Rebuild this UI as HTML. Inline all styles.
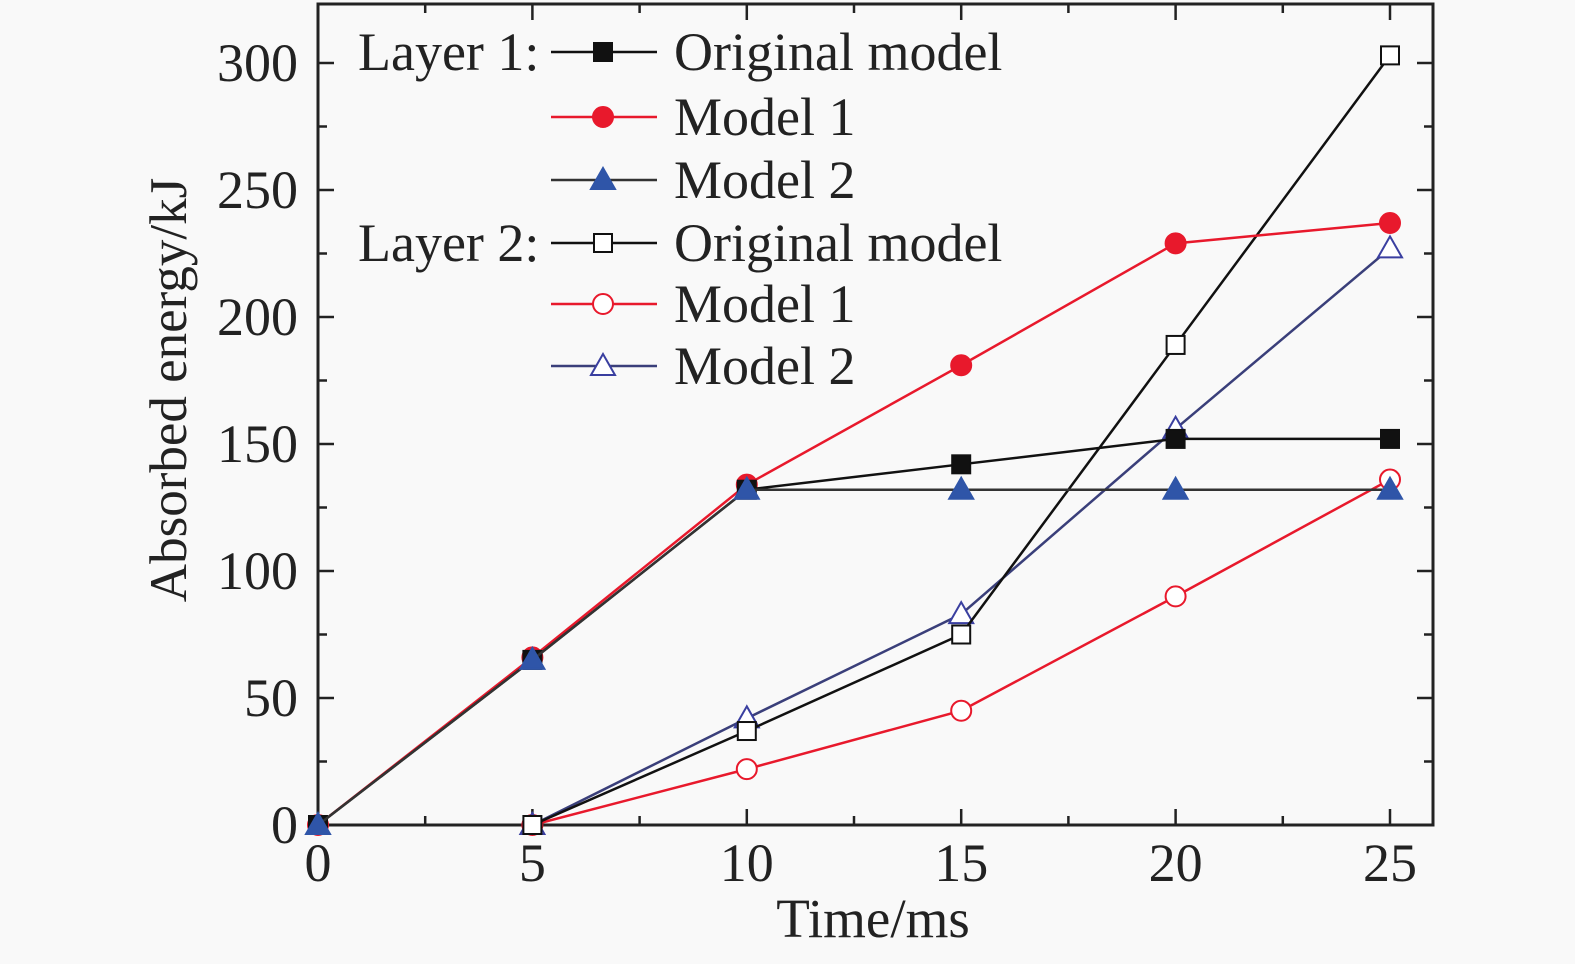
<!DOCTYPE html>
<html><head><meta charset="utf-8">
<style>
html,body{margin:0;padding:0;background:#f9f9f9;}
svg{display:block;font-family:"Liberation Serif",serif;}
</style></head>
<body>
<svg id="chart" width="1575" height="964" viewBox="0 0 1575 964" xmlns="http://www.w3.org/2000/svg">
<rect width="1575" height="964" fill="#f9f9f9"/>
<g id="plot"></g>
</svg>
<script>
const xValues = [0, 5, 10, 15, 20, 25];
const xValuesL2 = [5, 10, 15, 20, 25];
const layer1Original = [0, 65, 132, 142, 152, 152];
const layer1Model1 = [0, 66, 134, 181, 229, 237];
const layer1Model2 = [0, 65, 132, 132, 132, 132];
const layer2Original = [0, 37, 75, 189, 303];
const layer2Model1 = [0, 22, 45, 90, 136];
const layer2Model2 = [0, 42, 83, 156, 227];
const xTicks = [0, 5, 10, 15, 20, 25];
const yTicks = [0, 50, 100, 150, 200, 250, 300];

const NS = "http://www.w3.org/2000/svg";
const L = 318, R = 1433, T = 4, B = 825;
const sx = v => 318 + v * (1390 - 318) / 25;
const sy = v => 825 - v * (825 - 63) / 300;
const g = document.getElementById('plot');
function mk(tag, attrs, parent) {
  const e = document.createElementNS(NS, tag);
  for (const k in attrs) e.setAttribute(k, attrs[k]);
  (parent || g).appendChild(e);
  return e;
}
const RED = "#e8192c", BLUE = "#2f55a8", LINEBLUE = "#3a3f7a";

const fr = mk('rect', {x: L, y: T, width: R - L, height: B - T, fill: 'none', stroke: '#222', 'stroke-width': 3});



for (let v = 0; v <= 25; v += 2.5) {
  const major = v % 5 === 0;
  const len = major ? 16 : 9;
  const t1 = mk('line', {x1: sx(v), x2: sx(v), y1: B, y2: B - len, stroke: '#222', 'stroke-width': 2.5});
  
  
  const t2 = mk('line', {x1: sx(v), x2: sx(v), y1: T, y2: T + len, stroke: '#222', 'stroke-width': 2.5});
  
  
}
xTicks.forEach(v => {
  const t = mk('text', {x: sx(v), y: 881, 'font-size': 54, 'text-anchor': 'middle', fill: '#222'});
  t.textContent = v;
  
  
});
for (let v = 0; v <= 320; v += 25) {
  const major = v % 50 === 0;
  const len = major ? 16 : 9;
  const t1 = mk('line', {x1: L, x2: L + len, y1: sy(v), y2: sy(v), stroke: '#222', 'stroke-width': 2.5});
  
  
  const t2 = mk('line', {x1: R, x2: R - len, y1: sy(v), y2: sy(v), stroke: '#222', 'stroke-width': 2.5});
  
  
}
yTicks.forEach(v => {
  const t = mk('text', {x: 298, y: sy(v) + 18, 'font-size': 54, 'text-anchor': 'end', fill: '#222'});
  t.textContent = v;
  
  
});
const xt = mk('text', {x: 873, y: 937, 'font-size': 55, 'text-anchor': 'middle', fill: '#222'});
xt.textContent = 'Time/ms';


const yt = mk('text', {x: 0, y: 0, 'font-size': 53, 'text-anchor': 'middle', fill: '#222', transform: 'translate(186,390) rotate(-90)'});
yt.textContent = 'Absorbed energy/kJ';



function marker(type, cx, cy, color, parent) {
  let e;
  if (type === 'sq' || type === 'osq') {
    e = mk('rect', {x: cx - 9, y: cy - 9, width: 18, height: 18, fill: type === 'sq' ? '#111' : '#fff', stroke: '#111', 'stroke-width': 2}, parent);
  } else if (type === 'ci' || type === 'oci') {
    e = mk('circle', {cx, cy, r: 10, fill: type === 'ci' ? color : '#fff', stroke: color, 'stroke-width': 2}, parent);
  } else {
    e = mk('polygon', {points: `${cx},${cy - 12} ${cx - 12},${cy + 9} ${cx + 12},${cy + 9}`, fill: type === 'tr' ? color : '#fff', stroke: color, 'stroke-width': 2}, parent);
  }
  return e;
}
function series(name, xs, ys, lineColor, mType, mColor) {
  const sg = mk('g', {});
  
  
  const pts = xs.map((x, i) => sx(x) + ',' + sy(ys[i])).join(' ');
  const pl = mk('polyline', {points: pts, fill: 'none', stroke: lineColor, 'stroke-width': 2.5}, sg);
  
  
  xs.forEach((x, i) => {
    const m = marker(mType, sx(x), sy(ys[i]), mColor, sg);
    
    
  });
}
series('layer2-model1', xValuesL2, layer2Model1, RED, 'oci', RED);
series('layer2-model2', xValuesL2, layer2Model2, LINEBLUE, 'otr', '#3a3fa0');
series('layer2-original', xValuesL2, layer2Original, '#111', 'osq', '#111');
series('layer1-model1', xValues, layer1Model1, RED, 'ci', RED);
series('layer1-original', xValues, layer1Original, '#111', 'sq', '#111');
series('layer1-model2', xValues, layer1Model2, '#333', 'tr', BLUE);

const lg = mk('g', {});


const legendRows = [
  ['Layer 1:', 'Original model', '#111', 'sq', '#111', 52],
  ['', 'Model 1', RED, 'ci', RED, 117],
  ['', 'Model 2', '#333', 'tr', BLUE, 180],
  ['Layer 2:', 'Original model', '#111', 'osq', '#111', 243],
  ['', 'Model 1', RED, 'oci', RED, 304],
  ['', 'Model 2', LINEBLUE, 'otr', '#3a3fa0', 366]
];
legendRows.forEach(r => {
  const y = r[5];
  if (r[0]) {
    const h = mk('text', {x: 358, y: y + 18, 'font-size': 54, fill: '#222'}, lg);
    h.textContent = r[0];
    
    
  }
  const ln = mk('line', {x1: 551, x2: 657, y1: y, y2: y, stroke: r[2], 'stroke-width': 2.5}, lg);
  
  
  const m = marker(r[3], 603, y, r[4], lg);
  
  
  const t = mk('text', {x: 674, y: y + 18, 'font-size': 54, fill: '#222'}, lg);
  t.textContent = r[1];
  
  
});
</script>
</body></html>
